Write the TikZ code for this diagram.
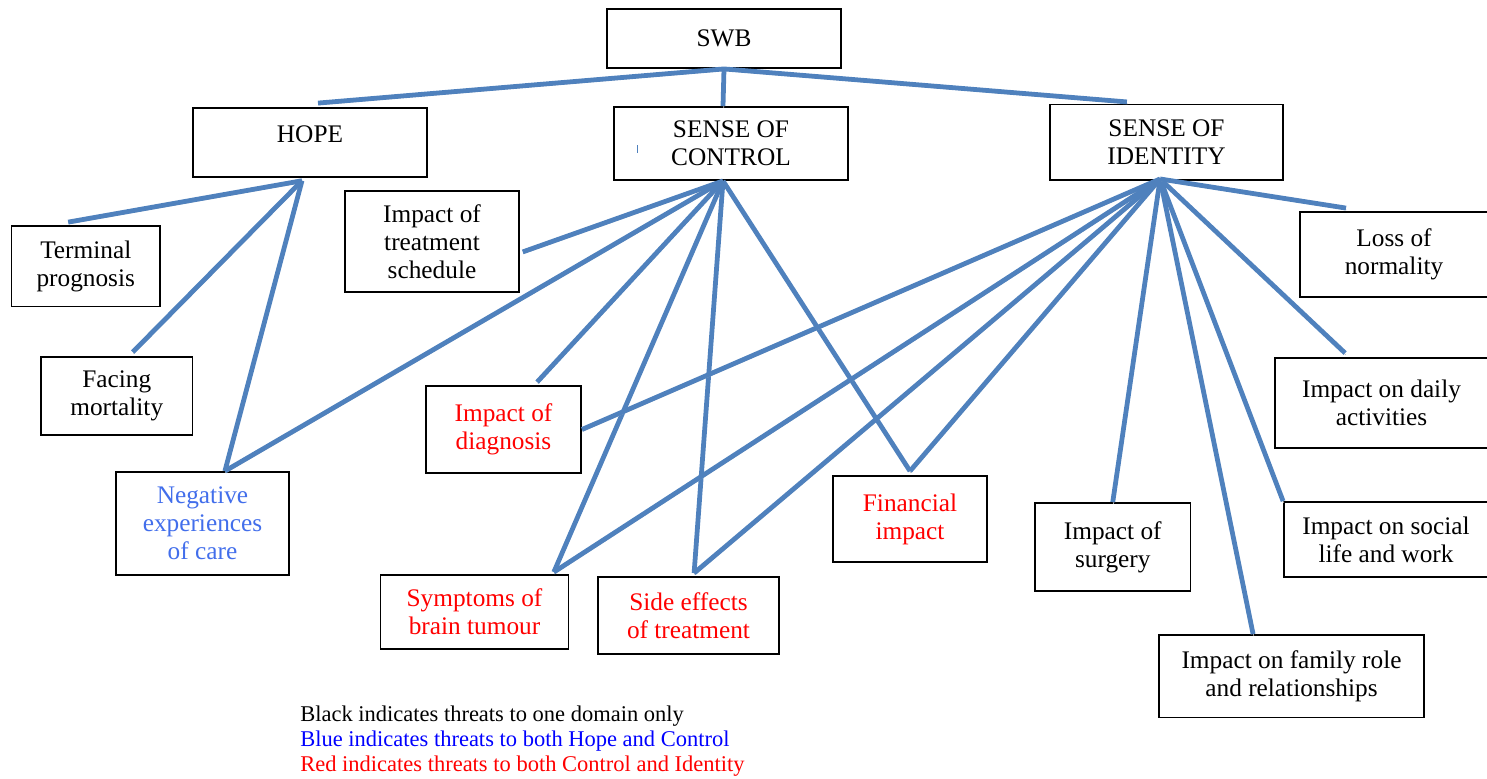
\documentclass[tikz,border=0pt]{standalone}
\usepackage{fontspec}
\setmainfont{Liberation Serif}

\definecolor{lineblue}{RGB}{79,129,189}
\definecolor{shadowgray}{RGB}{195,195,195}
\definecolor{negblue}{RGB}{66,110,235}
\definecolor{threatred}{RGB}{255,0,0}
\definecolor{legendblue}{RGB}{0,0,255}

\tikzset{
  box/.style={draw, line width=1.3pt, align=center, inner sep=0pt,
    font=\fontsize{18}{20}\selectfont},
  link/.style={draw=lineblue, line width=3.4pt,
    preaction={draw=shadowgray, transform canvas={shift={(0.5pt,-1.3pt)}}}}
}

\begin{document}
\begin{tikzpicture}[x=0.025cm, y=-0.025cm]
    \useasboundingbox (0,0) rectangle (1487,778);

    % Dominios
    \node[box, minimum width=5.85cm, minimum height=1.475cm] (swb) at (724,38.5) {SWB};
    \node[box, minimum width=5.85cm, minimum height=1.725cm, text depth=0.42cm] (hope) at (310,142.5) {HOPE};
    \node[box, minimum width=5.85cm, minimum height=1.825cm] (ctrl) at (731,143.5) {SENSE OF\\CONTROL};
    \node[box, minimum width=5.825cm, minimum height=1.89cm] (ident) at (1166.5,142.25) {SENSE OF\\IDENTITY};

    % Ameacas
    \node[box, minimum width=3.71cm, minimum height=2.01cm] (term) at (85.75,266.25) {Terminal\\prognosis};
    \node[box, minimum width=3.79cm, minimum height=1.95cm] (facing) at (116.75,396) {Facing\\mortality};
    \node[box, minimum width=4.325cm, minimum height=2.575cm, text=negblue] (neg) at (202.5,523.5) {Negative\\experiences\\of care};
    \node[box, minimum width=4.35cm, minimum height=2.525cm] (sched) at (432,241.5) {Impact of\\treatment\\schedule};
    \node[box, minimum width=3.875cm, minimum height=2.175cm, text=threatred] (diag) at (503.5,429.5) {Impact of\\diagnosis};
    \node[box, minimum width=4.7cm, minimum height=1.85cm, text=threatred] (sympt) at (474.5,612) {Symptoms of\\brain tumour};
    \node[box, minimum width=4.525cm, minimum height=1.925cm, text=threatred] (side) at (688.5,615.5) {Side effects\\of treatment};
    \node[box, minimum width=3.86cm, minimum height=2.15cm, text=threatred] (fin) at (910,519) {Financial\\impact};
    \node[box, minimum width=3.89cm, minimum height=2.2cm] (surg) at (1112.75,547) {Impact of\\surgery};
    \node[box, minimum width=6.625cm, minimum height=2.06cm] (family) at (1291.5,676.25) {Impact on family role\\and relationships};
    \node[box, minimum width=5.1cm, minimum height=1.875cm] (social) at (1386,539.5) {Impact on social\\life and work};
    \node[box, minimum width=5.325cm, minimum height=2.25cm] (daily) at (1381.5,403) {Impact on daily\\activities};
    \node[box, minimum width=4.7cm, minimum height=2.125cm] (loss) at (1394,254.5) {Loss of\\normality};

    % Pontos de ligacao
    \coordinate (hopehub) at ([xshift=-0.2cm,yshift=-0.07cm]hope.south);
    \coordinate (ctrlhub) at ([xshift=-0.2cm]ctrl.south);
    \coordinate (identhub) at ([xshift=-0.16cm,yshift=0.05cm]ident.south);
    \coordinate (negtop) at ([xshift=0.56cm]neg.north);
    \coordinate (symtop) at ([xshift=-0.39cm,yshift=0.05cm]sympt.north east);
    \coordinate (sidetop) at ([xshift=0.14cm,yshift=0.075cm]side.north);
    \coordinate (fintop) at ([yshift=0.1cm]fin.north);

    % SWB
    \draw[link] (swb.south) -- ([xshift=0.2cm,yshift=0.1cm]hope.north);
    \draw[link] (swb.south) -- ([xshift=-0.2cm]ctrl.north);
    \draw[link] (swb.south) -- ([xshift=-0.99cm,yshift=0.04cm]ident.north);

    % Hope
    \draw[link] (hopehub) -- ([xshift=-0.44cm,yshift=0.075cm]term.north);
    \draw[link] (hopehub) -- ([xshift=0.4cm,yshift=0.1cm]facing.north);
    \draw[link] (hopehub) -- (negtop);

    % Control
    \draw[link] (ctrlhub) -- ([xshift=0.07cm,yshift=-0.26cm]sched.east);
    \draw[link] (ctrlhub) -- (negtop);
    \draw[link] (ctrlhub) -- ([xshift=0.84cm,yshift=0.075cm]diag.north);
    \draw[link] (ctrlhub) -- (symtop);
    \draw[link] (ctrlhub) -- (sidetop);
    \draw[link] (ctrlhub) -- (fintop);

    % Identity
    \draw[link] (identhub) -- (diag.east);
    \draw[link] (identhub) -- (symtop);
    \draw[link] (identhub) -- (sidetop);
    \draw[link] (identhub) -- (fintop);
    \draw[link] (identhub) -- (surg.north);
    \draw[link] (identhub) -- ([xshift=-0.96cm]family.north);
    \draw[link] (identhub) -- (social.north west);
    \draw[link] (identhub) -- ([xshift=-0.91cm,yshift=0.1cm]daily.north);
    \draw[link] (identhub) -- ([xshift=-1.2cm,yshift=0.075cm]loss.north);

    % marca pequena
    \draw[lineblue, line width=0.8pt] ([xshift=0.6cm,yshift=-0.04cm]ctrl.west) -- ++(0,8);

    % Legenda
    \node[anchor=west, align=left, inner sep=0pt, font=\fontsize{16}{17.8}\selectfont] (legend) at (300,741)
      {Black indicates threats to one domain only\\
       \textcolor{legendblue}{Blue indicates threats to both Hope and Control}\\
       \textcolor{threatred}{Red indicates threats to both Control and Identity}};

\end{tikzpicture}
\end{document}
